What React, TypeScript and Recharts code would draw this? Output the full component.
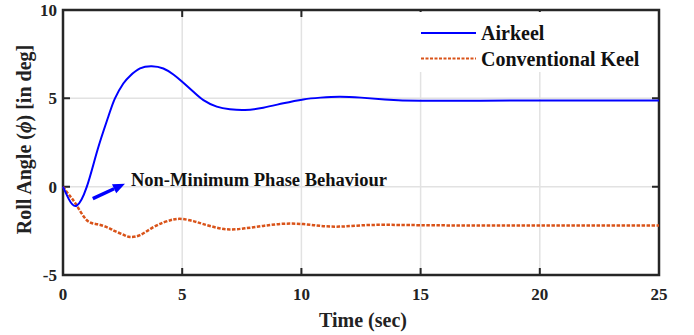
import {
  LineChart,
  Line,
  XAxis,
  YAxis,
  CartesianGrid,
  Legend,
  ReferenceLine,
  ReferenceArea,
} from 'recharts';

const times = [0, 0.25, 0.57, 1.0, 1.45, 1.9, 2.18, 2.53, 2.81, 3.23, 3.72, 4.21, 4.63, 5.0, 5.47, 5.89, 6.45, 7.0, 7.63, 8.4, 9.24, 10.08, 10.8, 11.6, 12.5, 13.5, 15, 17.5, 20, 22.5, 25];
const airkeel = [0, -0.72, -1.08, 0.0, 2.09, 3.96, 5.0, 5.84, 6.27, 6.69, 6.82, 6.69, 6.35, 5.94, 5.37, 4.9, 4.53, 4.38, 4.34, 4.47, 4.72, 4.94, 5.04, 5.09, 5.04, 4.94, 4.86, 4.87, 4.88, 4.88, 4.88];
const conventional = [0, -0.46, -1.05, -1.9, -2.13, -2.33, -2.52, -2.72, -2.85, -2.74, -2.35, -2.03, -1.86, -1.83, -1.95, -2.12, -2.32, -2.42, -2.36, -2.22, -2.1, -2.12, -2.22, -2.26, -2.19, -2.16, -2.18, -2.2, -2.2, -2.2, -2.2];

const xTicks = [0, 5, 10, 15, 20, 25];
const yTicks = [-5, 0, 5, 10];
const xDomain = [0, 25];
const yDomain = [-5, 10];

const arrowFrom = { x: 1.25, y: -0.68 };
const arrowTo = { x: 2.6, y: 0.17 };
const annotation = 'Non-Minimum Phase Behaviour';

const FONT = 'Liberation Serif, Times New Roman, serif';
const FRAME = '#262626';
const BLUE = '#0000ff';
const ORANGE = '#d95319';
const TICK_LEN = 7;

const chartData = times.map((t, i) => ({
  t,
  airkeel: airkeel[i],
  conventional: conventional[i],
}));

const bottomTick = ({ x, y, payload }: any) => (
  <text
    x={x}
    y={y + 25}
    textAnchor="middle"
    style={{ fontFamily: FONT, fontWeight: 'bold', fontSize: 17, fill: '#222' }}
  >
    {payload.value}
  </text>
);

const leftTick = ({ x, y, payload }: any) => (
  <text
    x={x - 6}
    y={y + 6}
    textAnchor="end"
    style={{ fontFamily: FONT, fontWeight: 'bold', fontSize: 17, fill: '#222' }}
  >
    {payload.value}
  </text>
);

// box around the plot with inward tick marks on all four sides
const FrameBox = ({ x, y, width, height }: any) => {
  let d = '';
  xTicks.slice(1, -1).forEach((v) => {
    const px = x + ((v - xDomain[0]) / (xDomain[1] - xDomain[0])) * width;
    d += `M${px},${y} L${px},${y + TICK_LEN} M${px},${y + height} L${px},${y + height - TICK_LEN} `;
  });
  yTicks.slice(1, -1).forEach((v) => {
    const py = y + height - ((v - yDomain[0]) / (yDomain[1] - yDomain[0])) * height;
    d += `M${x},${py} L${x + TICK_LEN},${py} M${x + width},${py} L${x + width - TICK_LEN},${py} `;
  });
  return (
    <g>
      <path d={d} stroke={FRAME} strokeWidth={2} fill="none" />
      <rect x={x} y={y} width={width} height={height} fill="none" stroke={FRAME} strokeWidth={2.5} />
    </g>
  );
};

const YLabel = ({ viewBox }: any) => {
  const cx = viewBox.x + 31;
  const cy = viewBox.y + viewBox.height / 2 - 3;
  return (
    <text
      x={cx}
      y={cy}
      transform={`rotate(-90, ${cx}, ${cy})`}
      textAnchor="middle"
      style={{ fontFamily: FONT, fontWeight: 'bold', fontSize: 20, fill: '#222' }}
    >
      Roll Angle (<tspan fontStyle="italic">ϕ</tspan>) [in deg]
    </text>
  );
};

const XLabel = ({ viewBox }: any) => (
  <text
    x={viewBox.x + viewBox.width / 2 + 2}
    y={viewBox.y + 52}
    textAnchor="middle"
    style={{ fontFamily: FONT, fontWeight: 'bold', fontSize: 20, fill: '#222' }}
  >
    Time (sec)
  </text>
);

const Arrow = ({ x1, y1, x2, y2 }: any) => {
  const dx = x2 - x1;
  const dy = y2 - y1;
  const len = Math.sqrt(dx * dx + dy * dy) || 1;
  const ux = dx / len;
  const uy = dy / len;
  const head = 12;
  const half = 5;
  const bx = x2 - ux * head;
  const by = y2 - uy * head;
  return (
    <g>
      <line x1={x1} y1={y1} x2={bx} y2={by} stroke={BLUE} strokeWidth={3.5} />
      <polygon
        points={`${x2},${y2} ${bx - uy * half},${by + ux * half} ${bx + uy * half},${by - ux * half}`}
        fill={BLUE}
      />
      <text
        x={x2 + 6}
        y={y2 + 2.5}
        style={{ fontFamily: FONT, fontWeight: 'bold', fontSize: 18.5, fill: '#111' }}
      >
        {annotation}
      </text>
    </g>
  );
};

const LegendBox = () => (
  <svg width={243} height={60}>
    <rect x={0} y={0} width={243} height={60} fill="#fff" />
    <line x1={8} y1={21} x2={63} y2={21} stroke={BLUE} strokeWidth={2.2} />
    <text x={68} y={28} style={{ fontFamily: FONT, fontWeight: 'bold', fontSize: 20, fill: '#111' }}>
      Airkeel
    </text>
    <line x1={8} y1={46.5} x2={63} y2={46.5} stroke={ORANGE} strokeWidth={2.2} strokeDasharray="3 1.5" />
    <text x={68} y={53.7} style={{ fontFamily: FONT, fontWeight: 'bold', fontSize: 20, fill: '#111' }}>
      Conventional Keel
    </text>
  </svg>
);

export default function App() {
  return (
    <div style={{ position: 'absolute', left: 0, top: 0, width: 694, height: 335, background: '#fff' }}>
      <LineChart width={694} height={335} data={chartData} margin={{ top: 10, right: 35, bottom: 0, left: 0 }}>
        <CartesianGrid stroke="#e2e2e2" strokeWidth={1.5} />
        <XAxis
          dataKey="t"
          type="number"
          domain={xDomain}
          ticks={xTicks}
          interval={0}
          height={60}
          tickSize={0}
          tickMargin={0}
          tickLine={false}
          tick={bottomTick}
          axisLine={false}
          label={<XLabel />}
        />
        <YAxis
          type="number"
          domain={yDomain}
          ticks={yTicks}
          interval={0}
          width={63}
          tickSize={0}
          tickMargin={0}
          tickLine={false}
          tick={leftTick}
          axisLine={false}
          label={<YLabel />}
        />
        <Line
          type="natural"
          dataKey="conventional"
          stroke={ORANGE}
          strokeWidth={2.5}
          strokeDasharray="3.5 1.5"
          dot={false}
          isAnimationActive={false}
        />
        <Line
          type="natural"
          dataKey="airkeel"
          stroke={BLUE}
          strokeWidth={2}
          dot={false}
          isAnimationActive={false}
        />
        <ReferenceArea
          x1={xDomain[0]}
          x2={xDomain[1]}
          y1={yDomain[0]}
          y2={yDomain[1]}
          shape={<FrameBox />}
          ifOverflow="visible"
        />
        <ReferenceLine segment={[arrowFrom, arrowTo]} shape={<Arrow />} />
        <Legend
          layout="horizontal"
          verticalAlign="middle"
          align="center"
          content={<LegendBox />}
          wrapperStyle={{ position: 'absolute', top: 12, left: 413, width: 243, height: 60 }}
        />
      </LineChart>
    </div>
  );
}
